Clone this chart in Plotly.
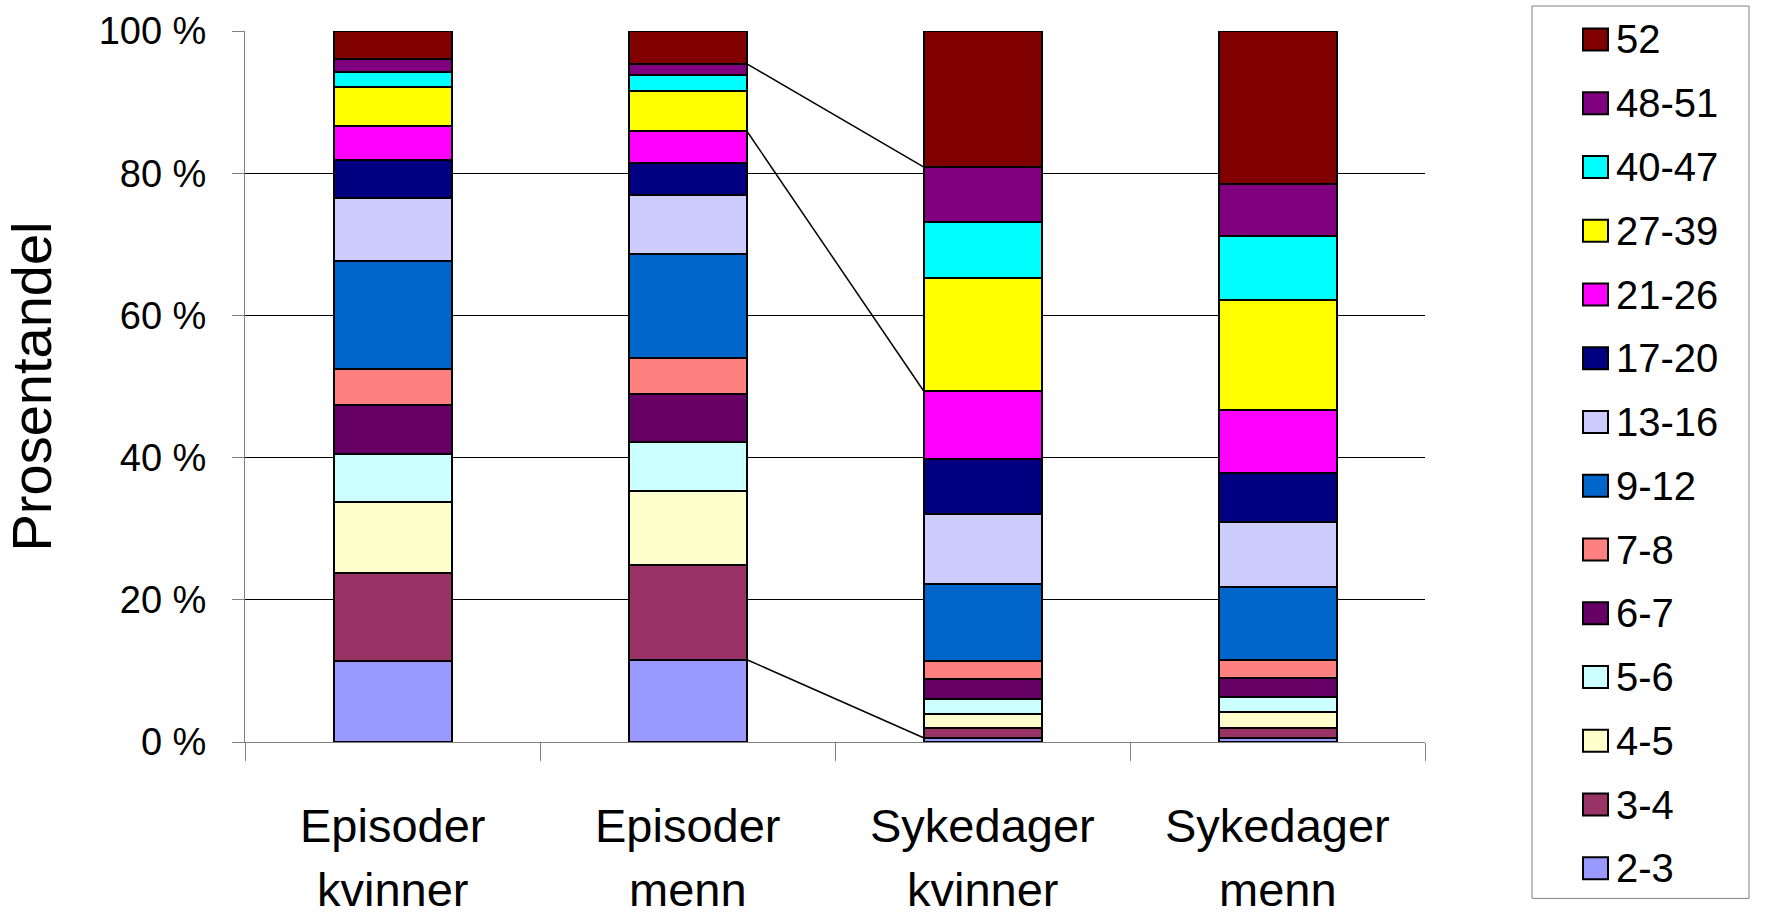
import numpy as np
import plotly.graph_objects as go

# Categories (x axis), each shown on two lines, and duration groups (stack order, bottom to top)
categories = ["Episoder kvinner", "Episoder menn", "Sykedager kvinner", "Sykedager menn"]
groups = ["2-3", "3-4", "4-5", "5-6", "6-7", "7-8", "9-12", "13-16",
          "17-20", "21-26", "27-39", "40-47", "48-51", "52"]
colors = ["#9999FF", "#993366", "#FFFFCC", "#CCFFFF", "#660066", "#FF8080", "#0066CC",
          "#CCCCFF", "#000080", "#FF00FF", "#FFFF00", "#00FFFF", "#800080", "#800000"]

# Percentage share per group, one list per category
episoder_kvinner = [11.4, 12.3, 10.0, 6.8, 6.9, 5.1, 15.2, 8.8, 5.3, 4.8, 5.5, 2.2, 1.7, 4.0]
episoder_menn = [11.6, 13.3, 10.4, 6.9, 6.8, 5.0, 14.7, 8.2, 4.6, 4.5, 5.5, 2.3, 1.6, 4.6]
sykedager_kvinner = [0.6, 1.3, 2.1, 2.1, 2.8, 2.5, 10.8, 9.8, 7.8, 9.6, 15.8, 8.0, 7.7, 19.1]
sykedager_menn = [0.6, 1.4, 2.2, 2.1, 2.7, 2.5, 10.3, 9.2, 6.9, 8.8, 15.5, 8.9, 7.4, 21.5]

y_ticks = [0, 20, 40, 60, 80, 100]
series_line_groups = ["2-3", "21-26", "48-51"]

values = np.array([episoder_kvinner, episoder_menn, sykedager_kvinner, sykedager_menn])
FONT = "Liberation Sans, Arial, sans-serif"
BAR_W = 0.4

# Plot-area geometry in pixels (used to place the legend frame in paper units)
W, H = 1769, 923
L, R, T, B = 245, 344, 31, 180.5
PW, PH = W - L - R, H - T - B


def px_x(px):
    return (px - L) / PW


def px_y(py):
    return (H - B - py) / PH


fig = go.Figure()
for i, (g, c) in enumerate(zip(groups, colors)):
    fig.add_trace(go.Bar(
        x=categories, y=values[:, i], name=g,
        marker=dict(color=c, line=dict(color="black", width=2)),
        width=BAR_W, showlegend=False,
    ))

# Series lines between the 2nd and 3rd bar
cum = np.cumsum(values, axis=1)
shapes = []
for g in series_line_groups:
    k = groups.index(g)
    shapes.append(dict(type="line", xref="x", yref="y",
                       x0=1 + BAR_W / 2, x1=2 - BAR_W / 2,
                       y0=cum[1, k], y1=cum[2, k],
                       line=dict(color="black", width=1.5), layer="above"))

annotations = []

# Two-line category labels under each bar
for ci, cat in enumerate(categories):
    for li, line in enumerate(cat.split(" ")):
        annotations.append(dict(
            x=cat, xref="x", y=px_y(826 + 64 * li), yref="paper",
            text=line, showarrow=False, xanchor="center", yanchor="middle",
            font=dict(size=47, family=FONT, color="black"),
        ))

# Legend: frame, colour swatches and labels, top entry = last group
shapes.append(dict(type="rect", xref="paper", yref="paper",
                   x0=px_x(1532), x1=px_x(1749), y0=px_y(899), y1=px_y(6),
                   line=dict(color="#808080", width=1), fillcolor="white", layer="below"))
for k, (g, c) in enumerate(zip(groups[::-1], colors[::-1])):
    cy = 39.5 + 63.8 * k
    shapes.append(dict(type="rect", xref="paper", yref="paper",
                       x0=px_x(1583), x1=px_x(1608), y0=px_y(cy + 11), y1=px_y(cy - 11),
                       line=dict(color="black", width=2), fillcolor=c))
    annotations.append(dict(
        x=px_x(1614), xref="paper", y=px_y(cy), yref="paper",
        text=g, showarrow=False, xanchor="left", yanchor="middle",
        font=dict(size=40, family=FONT, color="black"),
    ))

fig.update_layout(
    width=W, height=H,
    margin=dict(l=L, r=R, t=T, b=B, autoexpand=False),
    paper_bgcolor="white", plot_bgcolor="white",
    barmode="stack",
    font=dict(family=FONT, color="black"),
    shapes=shapes, annotations=annotations,
    showlegend=False,
    xaxis=dict(
        type="category", range=[-0.5, 3.5],
        tickson="boundaries", ticks="outside", ticklen=18, tickcolor="#808080",
        showline=True, linecolor="#808080", linewidth=1,
        showgrid=False, showticklabels=False,
    ),
    yaxis=dict(
        range=[0, 100], tickvals=y_ticks, ticktext=[f"{v} %" for v in y_ticks],
        ticks="outside", ticklen=12, tickcolor="#808080",
        showline=True, linecolor="#808080", linewidth=1,
        showgrid=True, gridcolor="black", gridwidth=1,
        zeroline=False,
        tickfont=dict(size=38, family=FONT, color="black"),
        ticklabelstandoff=18,
        title=dict(text="Prosentandel", font=dict(size=56, family=FONT, color="black"),
                   standoff=31),
    ),
)

fig.write_html("out.html")
